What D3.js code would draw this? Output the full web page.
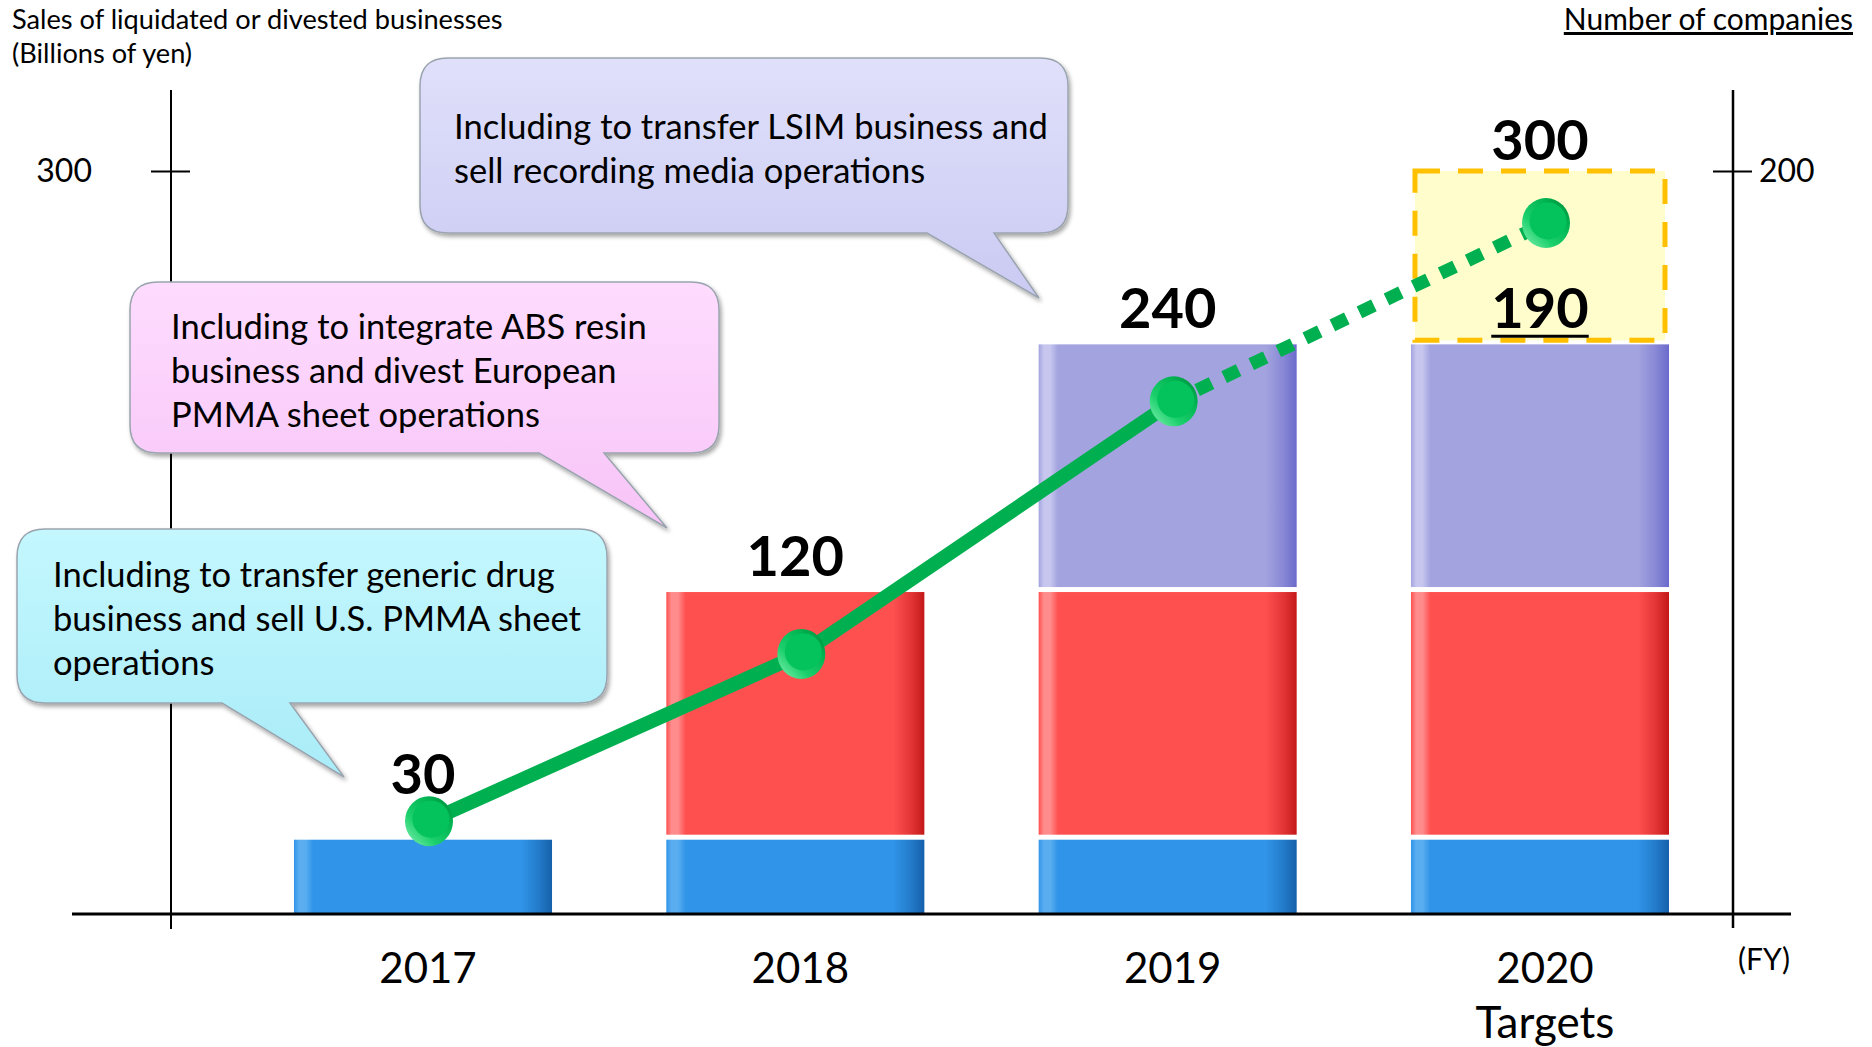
<!DOCTYPE html>
<html>
<head>
<meta charset="utf-8">
<script src="https://cdn.jsdelivr.net/npm/d3@7"></script>
<style>
  html, body { margin: 0; padding: 0; background: #fff; }
  svg { display: block; }
  text { font-family: Lato, "Open Sans", sans-serif; fill: #000; }
</style>
</head>
<body>
<svg id="chart" width="1872" height="1047"></svg>
<script>
// ---- data ----
const years = ["2017", "2018", "2019", "2020"];
const yearNotes = ["", "", "", "Targets"];
// sales of liquidated / divested businesses, stacked pieces (billions of yen)
const salesBase = [30, 30, 30, 30];
const sales2018 = [0, 100, 100, 100];
const sales2019 = [0, 0, 100, 100];
const salesTarget = [0, 0, 0, 300];
const salesLabels = ["30", "120", "240", "190"];
const targetLabel = "300";
// number of companies (right axis)
const companies = [25, 70, 138, 186];
const leftTicks = [300];
const rightTicks = [200];
const notes = [
    ["Including to transfer generic drug", "business and sell U.S. PMMA sheet", "operations"],
    ["Including to integrate ABS resin", "business and divest European", "PMMA sheet operations"],
    ["Including to transfer LSIM business and", "sell recording media operations"]
];

// ---- layout ----
const width = 1872, height = 1047;
const GAP = 5;
const DOT_DX = 6;
const noteBoxes = [
    {x0: 17, y0: 529, x1: 607, y1: 703, base: [222, 290], tip: [344, 777], fill: ["#C4F7FE", "#A9ECF8"], tx: 36},
    {x0: 130, y0: 282, x1: 719, y1: 453, base: [539, 604], tip: [667, 528], fill: ["#FEDCFE", "#F7C4F7"], tx: 41},
    {x0: 420, y0: 58, x1: 1068, y1: 233, base: [927, 994], tip: [1039, 298], fill: ["#E0E0FB", "#CACAF3"], tx: 34}
];
const barColors = {
    base: ["#5AAEF0", "#3094E8", "#1560AA"],
    s18:  ["#FF8C8C", "#FF5050", "#C41818"],
    s19:  ["#C6C6EF", "#A3A3DF", "#6A6ACC"]
};

const x = d3.scaleBand().domain(years).range([294, 1669]).paddingInner(0.307).paddingOuter(0);
const yL = d3.scaleLinear().domain([0, 300]).range([914, 171]);
const yR = d3.scaleLinear().domain([0, 200]).range([914, 171]);
const cx = d => x(d) + x.bandwidth() / 2;

const svg = d3.select("#chart");
const defs = svg.append("defs");

Object.entries(barColors).forEach(([k, c]) => {
    const g = defs.append("linearGradient").attr("id", "bar-" + k)
        .attr("x1", 0).attr("x2", 1).attr("y1", 0).attr("y2", 0);
    [[0, c[1]], [0.02, c[0]], [0.045, c[0]], [0.075, c[1]], [0.88, c[1]], [0.95, d3.interpolateRgb(c[1], c[2])(0.5)], [1, c[2]]]
        .forEach(([o, col]) => g.append("stop").attr("offset", o).attr("stop-color", col));
});

noteBoxes.forEach((b, i) => {
    const g = defs.append("linearGradient").attr("id", "note-" + i)
        .attr("x1", 0).attr("x2", 0).attr("y1", 0).attr("y2", 1);
    g.append("stop").attr("offset", 0).attr("stop-color", b.fill[0]);
    g.append("stop").attr("offset", 1).attr("stop-color", b.fill[1]);
});

const dotGrad = defs.append("linearGradient").attr("id", "dot-rim")
    .attr("x1", 0).attr("y1", 1).attr("x2", 1).attr("y2", 0);
[[0, "#86F2B4"], [0.35, "#1BD06C"], [0.7, "#00B552"], [1, "#00873A"]]
    .forEach(([o, col]) => dotGrad.append("stop").attr("offset", o).attr("stop-color", col));

const shadow = defs.append("filter").attr("id", "shadow")
    .attr("x", "-10%").attr("y", "-10%").attr("width", "120%").attr("height", "130%");
shadow.append("feDropShadow").attr("dx", 2).attr("dy", 3).attr("stdDeviation", 2)
    .attr("flood-color", "#000").attr("flood-opacity", 0.35);

// ---- titles ----
svg.append("text").attr("x", 12).attr("y", 29).attr("font-size", 27.2)
    .text("Sales of liquidated or divested businesses");
svg.append("text").attr("x", 12).attr("y", 63).attr("font-size", 27.2)
    .text("(Billions of yen)");
svg.append("text").attr("x", 1853).attr("y", 30).attr("font-size", 30)
    .attr("text-anchor", "end").attr("text-decoration", "underline")
    .text("Number of companies");

// ---- axes ----
const leftAxis = svg.append("g").attr("transform", "translate(171,0)")
    .call(d3.axisLeft(yL).tickValues(leftTicks).tickSize(20).tickPadding(59));
const rightAxis = svg.append("g").attr("transform", "translate(1733,0)")
    .call(d3.axisRight(yR).tickValues(rightTicks).tickSize(19).tickPadding(7));
[leftAxis, rightAxis].forEach(a => {
    a.select(".domain").remove();
    a.selectAll(".tick line").attr("stroke", "#000").attr("stroke-width", 2);
    a.selectAll(".tick text").attr("font-size", 32).attr("font-family", "Lato, sans-serif").attr("fill", "#000");
});
leftAxis.selectAll(".tick line").attr("x1", 19);
rightAxis.selectAll(".tick line").attr("x1", -20);
leftAxis.append("line").attr("y1", 90).attr("y2", yL(0) + 15).attr("stroke", "#000").attr("stroke-width", 2);
rightAxis.append("line").attr("y1", 90).attr("y2", yL(0) + 14).attr("stroke", "#000").attr("stroke-width", 2.5);

// ---- stacked bars ----
const table = years.map((yr, i) => ({year: yr, base: salesBase[i], s18: sales2018[i], s19: sales2019[i]}));
const series = d3.stack().keys(["base", "s18", "s19"])(table);

svg.append("g").selectAll("g").data(series).join("g")
    .attr("fill", s => `url(#bar-${s.key})`)
    .selectAll("rect").data((s, si) => s.filter(d => d[1] > d[0]).map(d => ({d, si})))
    .join("rect")
    .attr("x", p => x(p.d.data.year))
    .attr("width", x.bandwidth())
    .attr("y", p => yL(p.d[1]))
    .attr("height", p => yL(p.d[0]) - yL(p.d[1]) - (p.si > 0 ? GAP : 0));

const stackTop = table.map(d => d.base + d.s18 + d.s19);

// ---- target box ----
years.forEach((yr, i) => {
    if (!salesTarget[i]) return;
    const top = yL(salesTarget[i]), bot = yL(stackTop[i]) - 4;
    svg.append("rect")
        .attr("x", x(yr) + 4).attr("width", x.bandwidth() - 8)
        .attr("y", top).attr("height", bot - top)
        .attr("fill", "#FFFDCB").attr("stroke", "#FFC000").attr("stroke-width", 5)
        .attr("stroke-dasharray", "25 18");
    svg.append("text").attr("x", cx(yr)).attr("y", top - 11)
        .attr("text-anchor", "middle").attr("font-size", 56).attr("font-weight", 700)
        .text(targetLabel);
});

// ---- x axis ----
svg.append("line").attr("x1", 72).attr("x2", 1791).attr("y1", yL(0)).attr("y2", yL(0))
    .attr("stroke", "#000").attr("stroke-width", 3);
const xAxis = svg.append("g").attr("transform", `translate(5,${yL(0)})`)
    .call(d3.axisBottom(x).tickSize(0).tickPadding(39));
xAxis.select(".domain").remove();
xAxis.selectAll(".tick text").attr("font-size", 42).attr("font-family", "Lato, sans-serif").attr("fill", "#000");
xAxis.selectAll(".tick").append("text")
    .attr("y", 124).attr("text-anchor", "middle")
    .attr("font-size", 44).attr("font-family", "Lato, sans-serif").attr("fill", "#000")
    .text((d, i) => yearNotes[i]);
svg.append("text").attr("x", 1764).attr("y", 970).attr("text-anchor", "middle")
    .attr("font-size", 30).text("(FY)");

// ---- callouts ----
const notesG = svg.append("g");
noteBoxes.forEach((b, i) => {
    const r = 28;
    const path = `M${b.x0 + r},${b.y0} H${b.x1 - r} Q${b.x1},${b.y0} ${b.x1},${b.y0 + r}
        V${b.y1 - r} Q${b.x1},${b.y1} ${b.x1 - r},${b.y1} H${b.base[1]} L${b.tip[0]},${b.tip[1]}
        L${b.base[0]},${b.y1} H${b.x0 + r} Q${b.x0},${b.y1} ${b.x0},${b.y1 - r} V${b.y0 + r}
        Q${b.x0},${b.y0} ${b.x0 + r},${b.y0} Z`;
    notesG.append("path").attr("d", path)
        .attr("fill", `url(#note-${i})`).attr("stroke", "#9AA4AE").attr("stroke-width", 1.5)
        .attr("filter", "url(#shadow)");
    const lines = notes[i];
    const first = (b.y0 + b.y1) / 2 - (lines.length - 1) * 22 + 15;
    notesG.append("g").selectAll("text").data(lines).join("text")
        .attr("x", b.x0 + b.tx).attr("y", (d, j) => first + j * 44)
        .attr("font-size", 34.5).text(d => d);
});

// ---- companies line ----
const pts = years.map((yr, i) => [cx(yr) + DOT_DX, yR(companies[i])]);
const line = d3.line();
svg.append("path").attr("d", line(pts.slice(0, 3)))
    .attr("fill", "none").attr("stroke", "#00B050").attr("stroke-width", 14)
    .attr("stroke-linejoin", "round");
svg.append("path").attr("d", line(pts.slice(2)))
    .attr("fill", "none").attr("stroke", "#00B050").attr("stroke-width", 13)
    .attr("stroke-dasharray", "16 14").attr("stroke-dashoffset", -26);

const dots = svg.append("g").selectAll("g").data(pts).join("g")
    .attr("transform", p => `translate(${p[0]},${p[1]})`);
dots.append("ellipse").attr("rx", 24).attr("ry", 25).attr("fill", "url(#dot-rim)");
dots.append("circle").attr("cx", 2).attr("cy", -2).attr("r", 18.5).attr("fill", "#04C25C");

// ---- value labels ----
years.forEach((yr, i) => {
    const barTop = yL(stackTop[i]);
    const dotY = yR(companies[i]);
    const yb = (dotY < barTop && barTop - dotY < 60) ? dotY - 27 : barTop - 16;
    const t = svg.append("text").attr("x", cx(yr)).attr("y", yb)
        .attr("text-anchor", "middle").attr("font-size", 56).attr("font-weight", 700)
        .text(salesLabels[i]);
    if (salesTarget[i]) {
        const w = t.node().getComputedTextLength();
        svg.append("line").attr("x1", cx(yr) - w / 2).attr("x2", cx(yr) + w / 2)
            .attr("y1", yb + 8).attr("y2", yb + 8).attr("stroke", "#000").attr("stroke-width", 3);
    }
});
</script>
</body>
</html>
